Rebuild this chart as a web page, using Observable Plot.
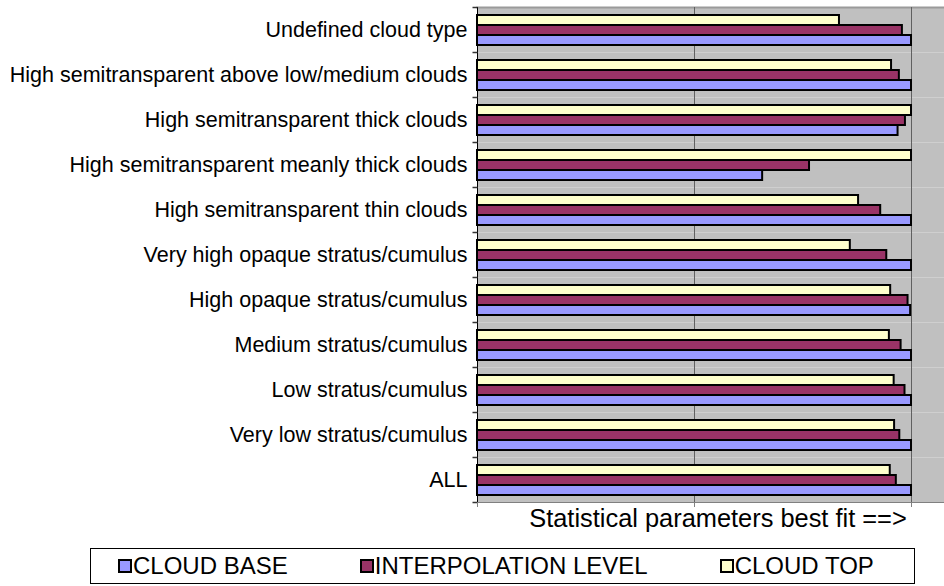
<!DOCTYPE html>
<html>
<head>
<meta charset="utf-8">
<script src="https://cdn.jsdelivr.net/npm/d3@7"></script>
<script src="https://cdn.jsdelivr.net/npm/@observablehq/plot@0.6"></script>
<style>
  html, body { margin: 0; padding: 0; background: #fff; }
  body { font-family: "Liberation Sans", Arial, sans-serif; }
  #wrap { position: relative; width: 944px; height: 586px; overflow: hidden; }
  #legend {
    position: absolute; left: 90px; top: 548px; width: 825px; height: 36px;
    border: 1px solid #000; box-sizing: border-box;
    display: flex; align-items: center; padding-left: 27px; gap: 72px;
    font-size: 24px; color: #000;
  }
  #legend .item { display: flex; align-items: center; white-space: nowrap; }
  #legend .swatch { width: 10px; height: 10px; border: 2px solid #000; margin-right: 1px; }
</style>
</head>
<body>
<div id="wrap">
  <div id="chart"></div>
  <div id="legend"></div>
</div>
<script>
// Cloud types, listed top to bottom
const categories = [
  "Undefined cloud type",
  "High semitransparent above low/medium clouds",
  "High semitransparent thick clouds",
  "High semitransparent meanly thick clouds",
  "High semitransparent thin clouds",
  "Very high opaque stratus/cumulus",
  "High opaque stratus/cumulus",
  "Medium stratus/cumulus",
  "Low stratus/cumulus",
  "Very low stratus/cumulus",
  "ALL"
];

const seriesNames = ["CLOUD BASE", "INTERPOLATION LEVEL", "CLOUD TOP"];
const seriesColors = ["#9999FF", "#993366", "#FFFFCC"];

// Best-fit score per cloud type, one array per level
const cloudBase          = [1.000, 1.000, 0.969, 0.657, 1.000, 1.000, 0.998, 1.000, 1.000, 1.000, 1.000];
const interpolationLevel = [0.979, 0.972, 0.986, 0.765, 0.929, 0.943, 0.992, 0.976, 0.985, 0.973, 0.965];
const cloudTop           = [0.834, 0.954, 1.000, 1.000, 0.878, 0.859, 0.952, 0.949, 0.960, 0.961, 0.951];

const xTicks = [0, 0.5, 1];
const xMax = 1.076;
const xTitle = "Statistical parameters best fit ==>";

const rows = categories.flatMap((c, i) => [
  {category: c, series: seriesNames[0], value: cloudBase[i]},
  {category: c, series: seriesNames[1], value: interpolationLevel[i]},
  {category: c, series: seriesNames[2], value: cloudTop[i]}
]);

// short tick on the left edge at each category boundary
const boundaryTick = {
  draw(context) { context.moveTo(-5, 0); context.lineTo(0, 0); }
};

const firstCat = categories[0];
const lastCat = categories[categories.length - 1];

const chart = Plot.plot({
  width: 944,
  height: 545,
  marginLeft: 477,
  marginRight: 0,
  marginTop: 5,
  marginBottom: 42,
  style: {
    fontFamily: "'Liberation Sans', Arial, sans-serif",
    fontSize: "21.5px",
    color: "black",
    background: "white",
    overflow: "visible"
  },
  x: {domain: [0, xMax], ticks: xTicks},
  y: {domain: [...seriesNames].reverse(), paddingInner: 0, paddingOuter: 0.7, axis: null},
  fy: {domain: categories, paddingInner: 0, paddingOuter: 0, label: null},
  color: {domain: seriesNames, range: seriesColors},
  marks: [
    Plot.frame({fill: "#C0C0C0"}),
    Plot.frame({anchor: "top", stroke: "#9a9a9a", strokeWidth: 2, fy: firstCat}),
    Plot.ruleX(xTicks.filter((t) => t > 0), {stroke: "#606060", strokeWidth: 1}),
    Plot.barX(rows, {
      fy: "category", y: "series", x: "value",
      fill: "series", stroke: "black", strokeWidth: 2
    }),
    Plot.frame({anchor: "bottom", stroke: "#808080", fy: lastCat}),
    Plot.frame({anchor: "left", stroke: "black"}),
    Plot.dot([0], {frameAnchor: "top-left", symbol: boundaryTick, stroke: "#333"}),
    Plot.dot([lastCat], {fy: (d) => d, frameAnchor: "bottom-left", symbol: boundaryTick, stroke: "#333"}),
    Plot.axisFy({anchor: "left", tickSize: 0, tickPadding: 10, fontSize: 21.5, label: null}),
    Plot.axisX({
      ticks: xTicks, tickSize: 5, stroke: "#808080",
      tickFormat: () => "", label: null
    }),
    // axis title under the bottom facet
    Plot.text([xTitle], {
      fy: () => lastCat, text: (d) => d,
      frameAnchor: "bottom", lineAnchor: "bottom",
      dx: 7, dy: 24, fontSize: 25.4, fill: "black"
    })
  ]
});
document.getElementById("chart").append(chart);

// legend drawn with the same series colours
const legend = d3.select("#legend");
seriesNames.forEach((name, i) => {
  const item = legend.append("span").attr("class", "item");
  item.append("span").attr("class", "swatch").style("background", seriesColors[i]);
  item.append("span").text(name);
});
</script>
</body>
</html>
